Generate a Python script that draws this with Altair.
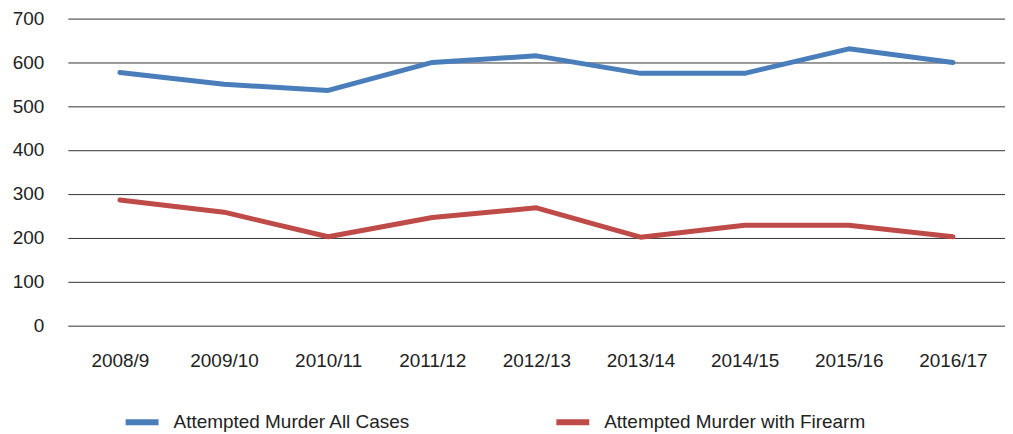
import altair as alt
import pandas as pd

years = ["2008/9", "2009/10", "2010/11", "2011/12", "2012/13",
         "2013/14", "2014/15", "2015/16", "2016/17"]
all_cases = [577, 550, 536, 600, 615, 575, 575, 631, 600]
firearm = [286, 258, 202, 246, 268, 201, 228, 228, 202]
series_names = ["Attempted Murder All Cases", "Attempted Murder with Firearm"]
colors = ["#4A7EBB", "#BE4B48"]

rows = []
for name, vals in zip(series_names, [all_cases, firearm]):
    for y, v in zip(years, vals):
        rows.append({"year": y, "value": v, "series": name})
df = pd.DataFrame(rows)

FONT = "Liberation Sans"

chart = alt.Chart(df).mark_line(strokeWidth=5, strokeCap="round", strokeJoin="round").encode(
    x=alt.X("year:O", sort=years, title=None,
            scale=alt.Scale(type="point", padding=0.5),
            axis=alt.Axis(labelAngle=0, ticks=False, domain=False, labelPadding=26,
                          labelFontSize=19, labelFont=FONT, labelColor="#222")),
    y=alt.Y("value:Q", title=None,
            scale=alt.Scale(domain=[0, 700], nice=False),
            axis=alt.Axis(values=[0, 100, 200, 300, 400, 500, 600, 700], ticks=False,
                          domain=False, labelPadding=24, labelFontSize=19, labelFont=FONT,
                          labelColor="#222", gridColor="#333", gridWidth=1, gridOpacity=1)),
    color=alt.Color("series:N", sort=series_names,
                    scale=alt.Scale(domain=series_names, range=colors),
                    legend=alt.Legend(title=None, orient="none", direction="horizontal",
                                      legendX=55, legendY=385,
                                      symbolType="stroke", symbolSize=1089, symbolStrokeWidth=6,
                                      labelFontSize=19, labelFont=FONT, labelColor="#222",
                                      labelOffset=12, columnPadding=134, labelLimit=400)),
).properties(
    width=940, height=307.5,
    autosize=alt.AutoSizeParams(type="none"),
    padding={"left": 60, "top": 10, "right": 0, "bottom": 108},
).configure_view(stroke=None)

chart.save("out.html", embed_options={"renderer": "svg", "actions": False})
